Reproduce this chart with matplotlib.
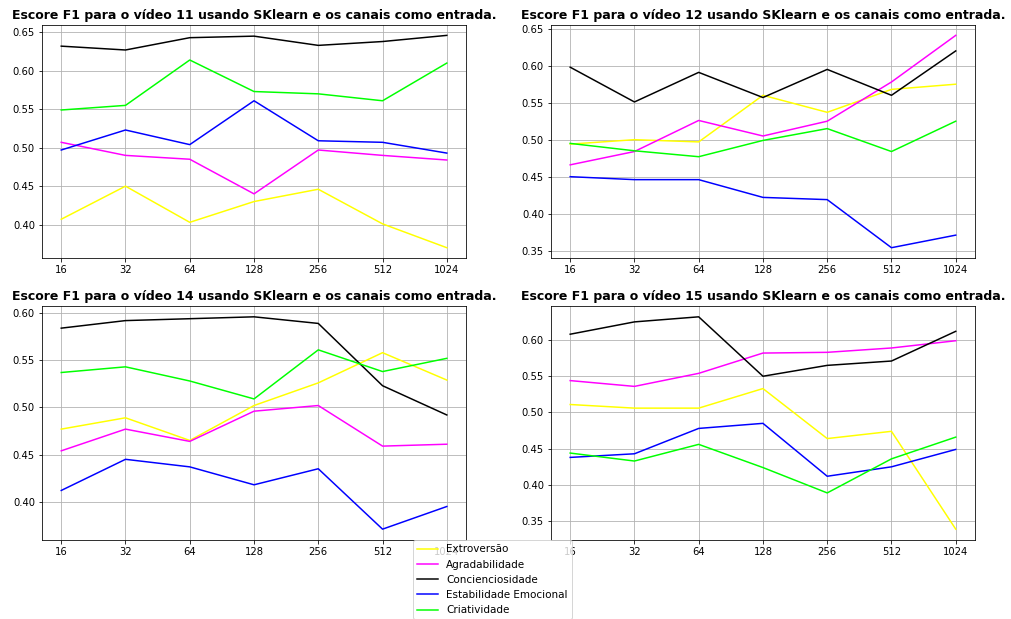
import matplotlib
matplotlib.use("Agg")
import matplotlib.pyplot as plt

janelas = ["16", "32", "64", "128", "256", "512", "1024"]
tracos = ["Extroversão", "Agradabilidade", "Concienciosidade", "Estabilidade Emocional", "Criatividade"]
cores = ["yellow", "magenta", "black", "blue", "lime"]

# F1 por traço, uma lista por vídeo (ordem igual a `tracos`)
video_11 = [
    [0.407, 0.450, 0.403, 0.430, 0.446, 0.401, 0.370],
    [0.507, 0.490, 0.485, 0.440, 0.497, 0.490, 0.484],
    [0.632, 0.627, 0.643, 0.645, 0.633, 0.638, 0.646],
    [0.497, 0.523, 0.504, 0.561, 0.509, 0.507, 0.493],
    [0.549, 0.555, 0.614, 0.573, 0.570, 0.561, 0.610],
]
video_12 = [
    [0.494, 0.500, 0.497, 0.560, 0.537, 0.568, 0.575],
    [0.466, 0.484, 0.526, 0.505, 0.525, 0.578, 0.641],
    [0.598, 0.551, 0.591, 0.557, 0.595, 0.560, 0.620],
    [0.450, 0.446, 0.446, 0.422, 0.419, 0.354, 0.371],
    [0.495, 0.485, 0.477, 0.499, 0.515, 0.484, 0.525],
]
video_14 = [
    [0.477, 0.489, 0.465, 0.502, 0.526, 0.558, 0.529],
    [0.454, 0.477, 0.464, 0.496, 0.502, 0.459, 0.461],
    [0.584, 0.592, 0.594, 0.596, 0.589, 0.523, 0.492],
    [0.412, 0.445, 0.437, 0.418, 0.435, 0.371, 0.395],
    [0.537, 0.543, 0.528, 0.509, 0.561, 0.538, 0.552],
]
video_15 = [
    [0.511, 0.506, 0.506, 0.533, 0.464, 0.474, 0.339],
    [0.544, 0.536, 0.554, 0.582, 0.583, 0.589, 0.599],
    [0.608, 0.625, 0.632, 0.550, 0.565, 0.571, 0.612],
    [0.438, 0.443, 0.478, 0.485, 0.412, 0.425, 0.449],
    [0.444, 0.433, 0.456, 0.424, 0.389, 0.436, 0.466],
]
videos = {11: video_11, 12: video_12, 14: video_14, 15: video_15}

fig, axs = plt.subplots(2, 2, figsize=(1011 / 72, 619 / 72), dpi=72)
fig.subplots_adjust(left=0.0415, right=0.9644, top=0.96, bottom=0.128,
                    wspace=0.2, hspace=0.205)

for ax, (num, dados) in zip(axs.flat, videos.items()):
    for nome, cor, valores in zip(tracos, cores, dados):
        ax.plot(janelas, valores, color=cor, label=nome)
    ax.grid(True)
    ax.set_title("Escore F1 para o vídeo %d usando SKlearn e os canais como entrada." % num,
                 fontweight="bold", fontsize=12.5)

handles, labels = axs[0, 0].get_legend_handles_labels()
fig.legend(handles, labels, loc="upper center", fontsize=10.4,
           bbox_to_anchor=(492.5 / 1011, 1 - 535 / 619))

fig.savefig("out.png", dpi=72)
